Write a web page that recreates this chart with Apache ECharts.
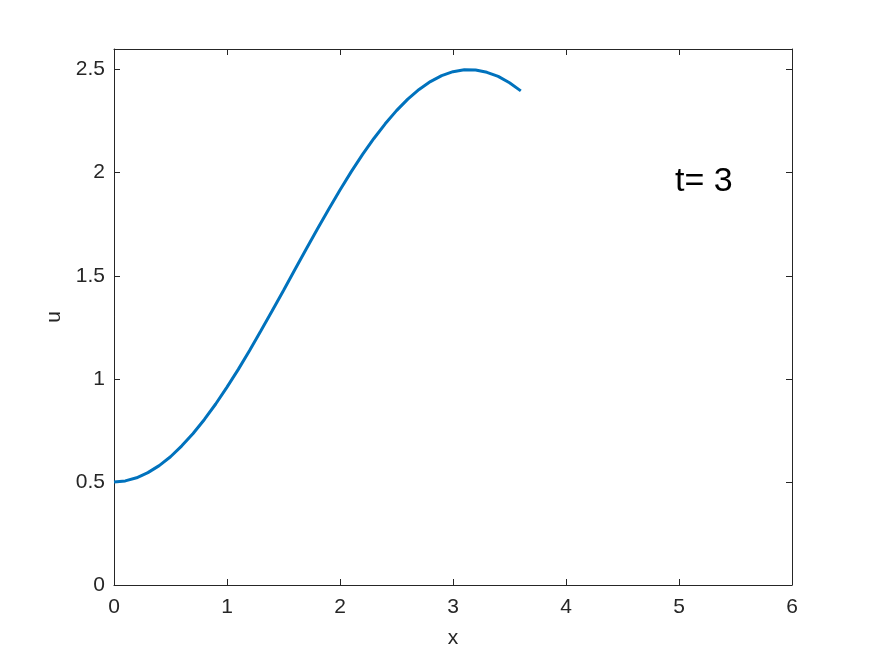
<!DOCTYPE html>
<html>
<head>
<meta charset="utf-8">
<script src="https://cdn.jsdelivr.net/npm/echarts@6/dist/echarts.min.js"></script>
<style>
  html, body { margin: 0; padding: 0; background: #fff; }
  #chart { width: 875px; height: 656px; }
</style>
</head>
<body>
<div id="chart"></div>
<script>
// values
var xs = [0, 0.1, 0.2, 0.3, 0.4, 0.5, 0.6, 0.7, 0.8, 0.9, 1.0, 1.1, 1.2, 1.3, 1.4, 1.5, 1.6, 1.7, 1.8,
          1.9, 2.0, 2.1, 2.2, 2.3, 2.4, 2.5, 2.6, 2.7, 2.8, 2.9, 3.0, 3.1, 3.2, 3.3, 3.4, 3.5, 3.6];
var us = [0.500, 0.505, 0.520, 0.545, 0.579, 0.622, 0.675, 0.735, 0.803, 0.878, 0.960, 1.046, 1.138,
          1.233, 1.330, 1.429, 1.529, 1.629, 1.727, 1.823, 1.916, 2.005, 2.089, 2.166, 2.237, 2.301,
          2.357, 2.404, 2.442, 2.471, 2.490, 2.499, 2.498, 2.487, 2.467, 2.436, 2.397];
var timeLabel = 't= 3';

var axisColor = '#262626';
var font = '"Liberation Sans", Arial, sans-serif';

var points = xs.map(function (x, i) { return [x, us[i]]; });

var chart = echarts.init(document.getElementById('chart'));

var baseX = {
    type: 'value', min: 0, max: 6, interval: 1,
    axisLine: { show: true, onZero: false, lineStyle: { color: axisColor, width: 1 } },
    axisTick: { show: true, inside: true, length: 6, lineStyle: { color: axisColor } },
    splitLine: { show: false }
};
var baseY = {
    type: 'value', min: 0, max: 2.6, interval: 0.5,
    axisLine: { show: true, onZero: false, lineStyle: { color: axisColor, width: 1 } },
    axisTick: { show: true, inside: true, length: 6, lineStyle: { color: axisColor } },
    splitLine: { show: false }
};

var option = {
    backgroundColor: '#fff',
    animation: false,
    grid: { left: 114, right: 83, top: 49, bottom: 71, containLabel: false },
    xAxis: [
        Object.assign({}, baseX, {
            position: 'bottom',
            name: 'x', nameLocation: 'middle', nameGap: 43,
            nameTextStyle: { color: axisColor, fontSize: 21, fontFamily: font },
            axisLabel: { color: axisColor, fontSize: 21, fontFamily: font, margin: 12 }
        }),
        Object.assign({}, baseX, { position: 'top', axisLabel: { show: false } })
    ],
    yAxis: [
        Object.assign({}, baseY, {
            position: 'left',
            name: 'u', nameLocation: 'middle', nameGap: 48,
            nameTextStyle: { color: axisColor, fontSize: 21, fontFamily: font },
            axisLabel: { color: axisColor, fontSize: 21, fontFamily: font, margin: 9, showMaxLabel: false,
                formatter: function (v) { return String(v); } }
        }),
        Object.assign({}, baseY, { position: 'right', axisLabel: { show: false } })
    ],
    series: [{
        type: 'line',
        data: points,
        smooth: false,
        showSymbol: false,
        lineStyle: { color: '#0072BD', width: 3 }
    }],
    graphic: [{
        type: 'text',
        x: 675,
        y: 182,
        style: { text: timeLabel, fill: '#000', fontSize: 34, fontFamily: font, verticalAlign: 'middle' }
    }]
};

chart.setOption(option);
</script>
</body>
</html>
